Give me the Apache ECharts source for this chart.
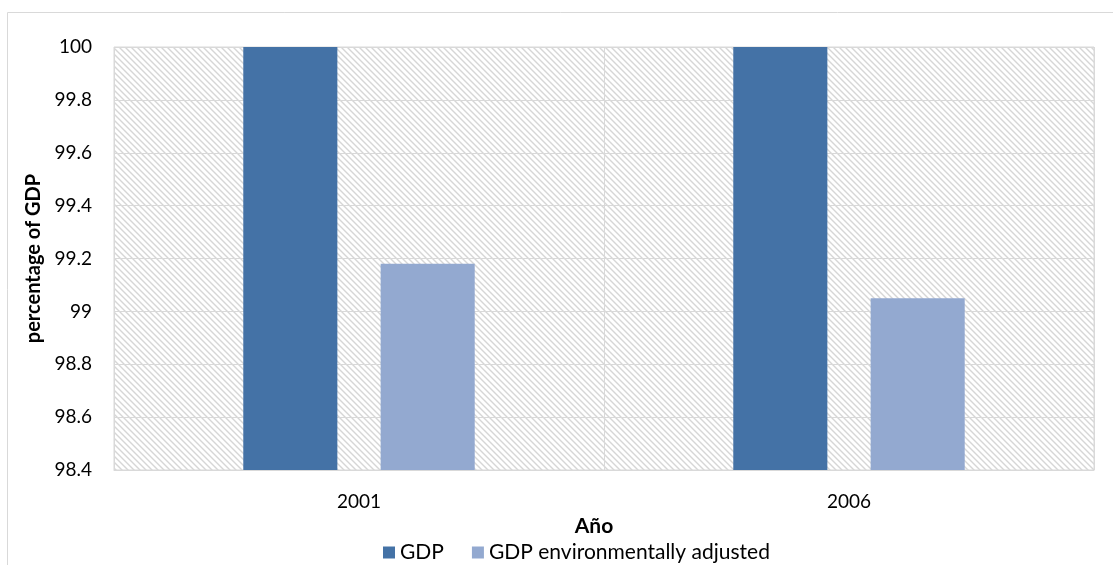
<!DOCTYPE html>
<html>
<head>
<meta charset="utf-8">
<script src="https://cdn.jsdelivr.net/npm/echarts@6/dist/echarts.min.js"></script>
<style>html,body{margin:0;padding:0;background:#fff}#c{width:1113px;height:565px}</style>
</head>
<body>
<div id="c"></div>
<script>
const categories = ['2001', '2006'];
const gdpValues = [100, 100];
const gdpAdjustedValues = [99.18, 99.05];
const seriesNames = ['GDP', 'GDP environmentally adjusted'];

// hatch pattern
const S = 6;
const pc = document.createElement('canvas');
pc.width = S; pc.height = S;
const g = pc.getContext('2d');
g.fillStyle = '#ffffff'; g.fillRect(0, 0, S, S);
g.strokeStyle = '#d6d6d6'; g.lineWidth = 1.4;
g.beginPath();
g.moveTo(-1, -1); g.lineTo(S + 1, S + 1);
g.moveTo(-1, S - 1); g.lineTo(1, S + 1);
g.moveTo(S - 1, -1); g.lineTo(S + 1, 1);
g.stroke();

const FONT = 'Lato, "Open Sans", sans-serif';
const chart = echarts.init(document.getElementById('c'), null, {renderer: 'canvas'});
chart.setOption({
  animation: false,
  textStyle: {fontFamily: FONT},
  graphic: [{
    type: 'rect', z: -10, silent: true,
    shape: {x: 7.5, y: 12.5, width: 1120, height: 570},
    style: {fill: 'none', stroke: '#d9d9d9', lineWidth: 1}
  }],
  grid: {
    left: 114, right: 19, top: 47, bottom: 95,
    show: true, backgroundColor: {image: pc, repeat: 'repeat'},
    borderColor: '#d9d9d9', borderWidth: 1
  },
  legend: {
    top: 537, left: 378,
    itemWidth: 12, itemHeight: 12, itemGap: 28,
    icon: 'rect',
    textStyle: {fontFamily: FONT, fontSize: 21, color: '#000'},
    data: seriesNames
  },
  xAxis: {
    type: 'category', data: categories,
    name: 'Año', nameLocation: 'middle', nameGap: 44,
    nameTextStyle: {fontFamily: FONT, fontSize: 21, fontWeight: 'bold', color: '#000', padding: [0, 20, 0, 0]},
    axisLine: {show: true, lineStyle: {color: '#d9d9d9'}},
    axisTick: {show: false},
    axisLabel: {fontFamily: FONT, fontSize: 19, color: '#000', margin: 22},
    splitLine: {show: true, lineStyle: {color: '#d9d9d9'}}
  },
  yAxis: {
    type: 'value', min: 98.4, max: 100, interval: 0.2,
    name: 'percentage of GDP', nameLocation: 'middle', nameGap: 66,
    nameTextStyle: {fontFamily: FONT, fontSize: 20, fontWeight: 'bold', color: '#000'},
    axisLine: {show: false}, axisTick: {show: false},
    axisLabel: {fontFamily: FONT, fontSize: 19, color: '#000', margin: 22,
      formatter: v => String(+v.toFixed(1))},
    splitLine: {show: true, lineStyle: {color: '#d9d9d9'}}
  },
  series: [
    {name: seriesNames[0], type: 'bar', data: gdpValues, barWidth: '19.2%', barGap: '46%',
     itemStyle: {color: '#4472a6'}},
    {name: seriesNames[1], type: 'bar', data: gdpAdjustedValues, barWidth: '19.2%',
     itemStyle: {color: '#93a9d0'}}
  ]
});
</script>
</body>
</html>
